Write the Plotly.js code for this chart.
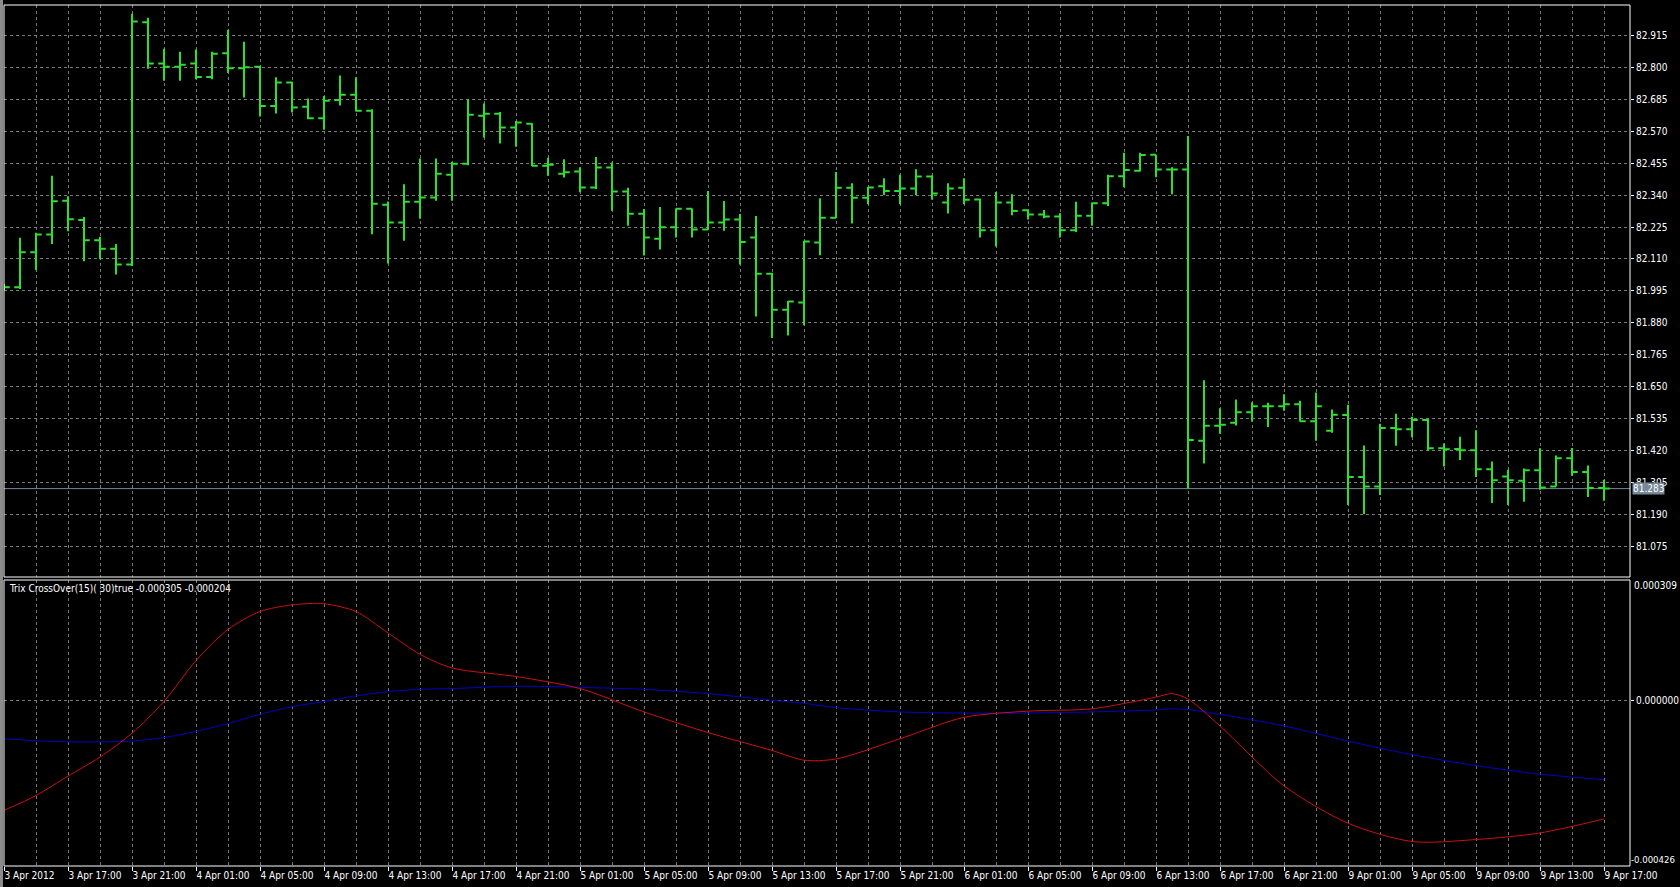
<!DOCTYPE html>
<html><head><meta charset="utf-8">
<script src="https://cdn.plot.ly/plotly-3.0.1.min.js"></script>
<style>html,body{margin:0;padding:0;background:#000;overflow:hidden}#chart{width:1680px;height:887px}</style>
</head><body><div id="chart"></div>
<script>
// ---- price bars (H1), bar index 0 = 3 Apr 2012 13:00 ----
const opens = [82.010,82.008,82.134,82.198,82.320,82.250,82.177,82.147,82.090,82.962,
82.814,82.802,82.814,82.765,82.851,82.797,82.802,82.661,82.745,82.658,
82.617,82.682,82.701,82.644,82.305,82.241,82.316,82.331,82.413,82.453,
82.626,82.633,82.583,82.597,82.446,82.417,82.425,82.367,82.439,82.353,
82.273,82.183,82.224,82.291,82.216,82.241,82.252,82.187,82.057,81.927,
81.953,82.169,82.258,82.366,82.330,82.372,82.355,82.364,82.407,82.313,
82.366,82.324,82.213,82.313,82.285,82.270,82.263,82.213,82.266,82.311,
82.408,82.428,82.485,82.432,82.432,81.455,81.509,81.520,81.558,81.580,
81.580,81.587,81.526,81.491,81.548,81.325,81.291,81.501,81.497,81.530,
81.428,81.426,81.421,81.353,81.327,81.311,81.349,81.291,81.392,81.343,
81.285];
const highs = [82.020,82.186,82.204,82.410,82.336,82.261,82.190,82.164,82.993,82.979,
82.867,82.856,82.864,82.856,82.935,82.892,82.804,82.764,82.748,82.688,
82.697,82.771,82.764,82.649,82.317,82.379,82.472,82.472,82.460,82.685,
82.670,82.639,82.607,82.599,82.474,82.469,82.440,82.477,82.457,82.366,
82.290,82.297,82.292,82.292,82.355,82.319,82.272,82.265,82.060,81.959,
82.176,82.329,82.423,82.383,82.369,82.401,82.413,82.433,82.411,82.383,
82.401,82.328,82.351,82.343,82.289,82.286,82.275,82.316,82.313,82.413,
82.492,82.492,82.485,82.440,82.553,81.673,81.572,81.604,81.594,81.592,
81.623,81.599,81.629,81.568,81.585,81.438,81.517,81.553,81.542,81.534,
81.445,81.470,81.493,81.381,81.351,81.355,81.428,81.402,81.429,81.366,
81.315];
const lows = [81.995,82.002,82.070,82.164,82.210,82.102,82.109,82.054,82.085,82.795,
82.752,82.752,82.757,82.757,82.780,82.691,82.623,82.634,82.637,82.613,
82.575,82.663,82.641,82.199,82.094,82.176,82.255,82.320,82.320,82.447,
82.547,82.526,82.514,82.445,82.410,82.403,82.350,82.362,82.284,82.230,
82.122,82.144,82.187,82.187,82.216,82.212,82.090,81.903,81.825,81.834,
81.871,82.123,82.258,82.238,82.307,82.340,82.307,82.340,82.324,82.274,
82.307,82.187,82.155,82.267,82.252,82.257,82.187,82.207,82.230,82.301,
82.368,82.425,82.404,82.343,81.283,81.373,81.481,81.510,81.525,81.505,
81.563,81.525,81.455,81.484,81.224,81.192,81.260,81.437,81.468,81.421,
81.363,81.386,81.325,81.231,81.224,81.236,81.279,81.291,81.329,81.253,
81.239];
const closes = [82.008,82.134,82.198,82.318,82.253,82.177,82.147,82.090,82.965,82.814,
82.802,82.809,82.765,82.849,82.797,82.800,82.661,82.745,82.655,82.617,
82.680,82.701,82.644,82.309,82.241,82.316,82.331,82.417,82.453,82.629,
82.633,82.583,82.601,82.446,82.449,82.422,82.367,82.439,82.353,82.273,
82.187,82.224,82.291,82.216,82.241,82.252,82.171,82.057,81.927,81.957,
82.173,82.258,82.366,82.330,82.367,82.355,82.364,82.407,82.346,82.364,
82.323,82.213,82.313,82.283,82.270,82.263,82.213,82.266,82.311,82.408,
82.430,82.484,82.432,82.432,81.458,81.509,81.513,81.558,81.580,81.580,
81.587,81.526,81.580,81.549,81.325,81.291,81.501,81.497,81.530,81.428,
81.425,81.421,81.353,81.313,81.313,81.349,81.287,81.392,81.343,81.285,
81.283];

// ---- time axis labels ----
const tickBars = [0,4,8,12,16,20,24,28,32,36,40,44,48,52,56,60,64,68,72,76,80,84,88,92,96,100];
const tickLabels = ['3 Apr 2012','3 Apr 17:00','3 Apr 21:00','4 Apr 01:00','4 Apr 05:00','4 Apr 09:00',
'4 Apr 13:00','4 Apr 17:00','4 Apr 21:00','5 Apr 01:00','5 Apr 05:00','5 Apr 09:00','5 Apr 13:00',
'5 Apr 17:00','5 Apr 21:00','6 Apr 01:00','6 Apr 05:00','6 Apr 09:00','6 Apr 13:00','6 Apr 17:00',
'6 Apr 21:00','9 Apr 01:00','9 Apr 05:00','9 Apr 09:00','9 Apr 13:00','9 Apr 17:00'];

// ---- price scale ----
const priceTicks = [82.915,82.800,82.685,82.570,82.455,82.340,82.225,82.110,81.995,81.880,
81.765,81.650,81.535,81.420,81.305,81.190,81.075];
const lastPrice = 81.283;

// ---- indicator: Trix CrossOver ----
const indicatorName = 'Trix CrossOver(15)( 30)true';
const trixBars   = [0,2,4,6,8,10,12,14,16,18,20,22,24,26,28,32,36,40,44,48,50,52,56,60,64,68,72,73,74,76,80,84,88,92,96,100];
const trixMain   = [-0.000283,-0.000245,-0.000195,-0.000146,-0.000085,-0.000003,0.000102,0.000182,0.000228,0.000245,
0.000248,0.000228,0.000173,0.000118,0.000083,0.000061,0.000030,-0.000030,-0.000083,-0.000129,
-0.000154,-0.000151,-0.000099,-0.000044,-0.000028,-0.000022,0.000008,0.000017,0.000003,-0.000066,
-0.000220,-0.000316,-0.000363,-0.000358,-0.000341,-0.000305];
const trixSignal = [-0.000099,-0.000104,-0.000107,-0.000107,-0.000105,-0.000096,-0.000080,-0.000060,-0.000036,-0.000017,
-0.000003,0.000011,0.000022,0.000028,0.000030,0.000036,0.000033,0.000028,0.000017,0.000000,
-0.000008,-0.000019,-0.000030,-0.000033,-0.000033,-0.000030,-0.000025,-0.000022,-0.000024,-0.000036,
-0.000066,-0.000105,-0.000140,-0.000168,-0.000190,-0.000204];
const indMax = 0.000309, indMin = -0.000426;

// ---- styling ----
const FONT = 'DejaVu Sans Condensed, Liberation Sans, sans-serif';
const GRID = '#7a7a7a';
const BAR = '#2ee02e';

const barX = opens.map((_, i) => i);

const traces = [
  {type:'ohlc', x:barX, open:opens, high:highs, low:lows, close:closes,
   xaxis:'x', yaxis:'y', tickwidth:0.36, hoverinfo:'skip', showlegend:false,
   increasing:{line:{color:BAR, width:2}}, decreasing:{line:{color:BAR, width:2}}},
  {type:'scatter', mode:'lines', x:trixBars, y:trixSignal, xaxis:'x', yaxis:'y2',
   line:{color:'#0000c8', width:1, shape:'spline', smoothing:0.8}, hoverinfo:'skip', showlegend:false},
  {type:'scatter', mode:'lines', x:trixBars, y:trixMain, xaxis:'x', yaxis:'y2',
   line:{color:'#cc1010', width:1, shape:'spline', smoothing:0.8}, hoverinfo:'skip', showlegend:false}
];

const W = 1680, H = 887, ML = 4, MR = 50, MT = 5, MB = 21;
const PW = W - ML - MR, PH = H - MT - MB;
const mainBottomPx = 577, indTopPx = 580;
const mainDom = [(H - MB - mainBottomPx) / PH, 1];
const indDom = [0, (H - MB - indTopPx) / PH];

const layout = {
  width:W, height:H, margin:{l:ML, r:MR, t:MT, b:MB, pad:0},
  paper_bgcolor:'#000', plot_bgcolor:'#000', showlegend:false, hovermode:false,
  font:{family:FONT, size:10, color:'#fff'},
  xaxis:{range:[0, 101.625], anchor:'y2', tickmode:'array', tickvals:tickBars, ticktext:tickLabels,
    ticks:'outside', ticklen:4, tickwidth:1, tickcolor:'#fff', ticklabelposition:'outside right',
    tickfont:{family:FONT, size:10, color:'#fff'},
    showgrid:true, gridcolor:GRID, griddash:'3px,3px', gridwidth:1,
    minor:{tick0:2, dtick:4, showgrid:true, gridcolor:GRID, griddash:'3px,3px', ticks:''},
    zeroline:false, showline:false, rangeslider:{visible:false}, fixedrange:true},
  yaxis:{domain:mainDom, range:[80.9647, 83.0245], side:'right', anchor:'x',
    tickmode:'array', tickvals:priceTicks, ticktext:priceTicks.map(v => v.toFixed(3)),
    ticks:'outside', ticklen:3, tickcolor:'#fff', tickfont:{family:FONT, size:10, color:'#fff'},
    showgrid:true, gridcolor:GRID, griddash:'3px,3px', zeroline:false, showline:false, fixedrange:true},
  yaxis2:{domain:indDom, range:[indMin, indMax], side:'right', anchor:'x',
    tickmode:'array', tickvals:[0], ticktext:[(0).toFixed(6)],
    ticks:'outside', ticklen:3, tickcolor:'#fff', tickfont:{family:FONT, size:10, color:'#fff'},
    showgrid:true, gridcolor:GRID, griddash:'3px,3px', zeroline:false, showline:false, fixedrange:true},
  shapes:[
    {type:'line', xref:'x domain', x0:0, x1:1, yref:'y', y0:lastPrice, y1:lastPrice,
     line:{color:'#778899', width:1}, layer:'below'},
    {type:'rect', xref:'x domain', x0:0, x1:1, yref:'y domain', y0:0, y1:1,
     line:{color:'#ffffff', width:1}, layer:'above'},
    {type:'rect', xref:'x domain', x0:0, x1:1, yref:'y2 domain', y0:0, y1:1,
     line:{color:'#ffffff', width:1}, layer:'above'},
    {type:'rect', xref:'paper', x0:-4/PW, x1:-1/PW, yref:'paper', y0:-MB/PH, y1:(PH+MT)/PH,
     fillcolor:'#8c8c8c', line:{width:0}, layer:'above'}
  ],
  annotations:[
    {xref:'paper', x:0, xanchor:'left', xshift:3, yref:'paper', y:indDom[1], yanchor:'top', yshift:-1,
     text: indicatorName + ' ' + trixMain[trixMain.length-1].toFixed(6) + ' ' + trixSignal[trixSignal.length-1].toFixed(6),
     showarrow:false, font:{family:FONT, size:10, color:'#fff'}},
    {xref:'paper', x:1, xanchor:'left', xshift:2, yref:'paper', y:indDom[1], yanchor:'top', yshift:2,
     text:indMax.toFixed(6), showarrow:false, font:{family:FONT, size:10, color:'#fff'}},
    {xref:'paper', x:1, xanchor:'left', xshift:-1, yref:'paper', y:0, yanchor:'bottom', yshift:-1,
     text:indMin.toFixed(6), showarrow:false, font:{family:FONT, size:9.5, color:'#fff'}},
    {xref:'paper', x:1, xanchor:'left', xshift:2, yref:'y', y:lastPrice, yanchor:'middle',
     text:lastPrice.toFixed(3), showarrow:false, bgcolor:'#778899', borderpad:0,
     font:{family:FONT, size:10, color:'#ffffff'}}
  ]
};

Plotly.newPlot('chart', traces, layout, {staticPlot:true, displayModeBar:false});
</script>
</body></html>
